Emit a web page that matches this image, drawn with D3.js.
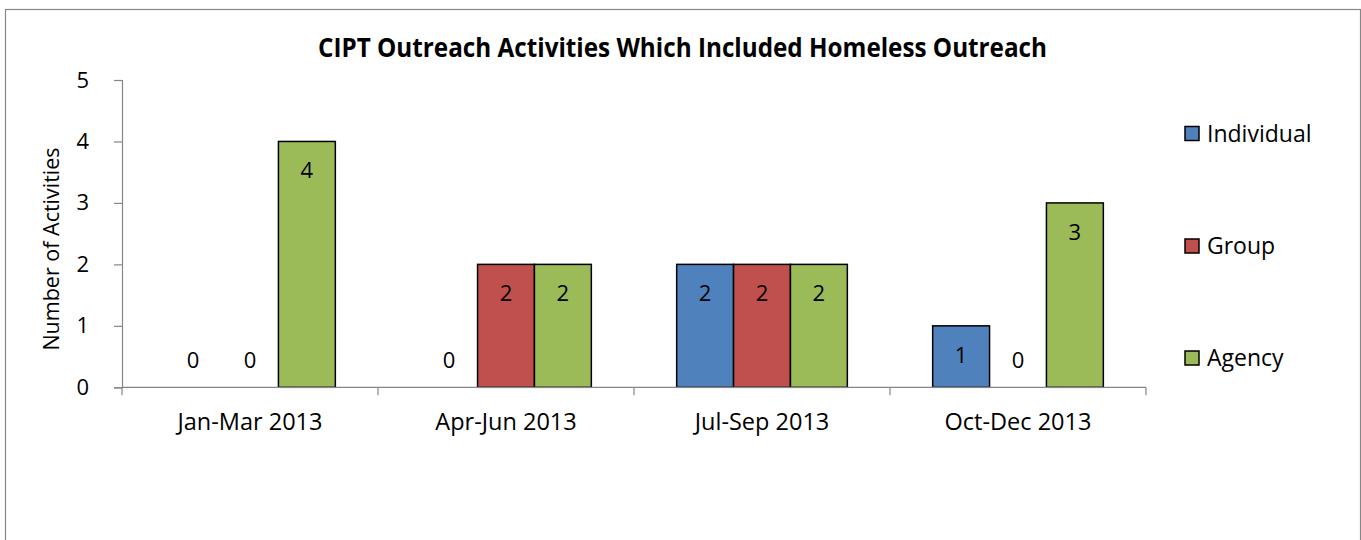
<!DOCTYPE html>
<html>
<head>
<meta charset="utf-8">
<script src="https://cdn.jsdelivr.net/npm/d3@7"></script>
<style>
  html, body { margin: 0; padding: 0; background: #fff; }
  svg { display: block; }
  text { font-family: "Open Sans", "Noto Sans", sans-serif; fill: #000; }
</style>
</head>
<body>
<svg id="chart" width="1361" height="540"></svg>
<script>
const title = "CIPT Outreach Activities Which Included Homeless Outreach";
const yTitle = "Number of Activities";
const categories = ["Jan-Mar 2013", "Apr-Jun 2013", "Jul-Sep 2013", "Oct-Dec 2013"];
const seriesNames = ["Individual", "Group", "Agency"];
const individual = [0, 0, 2, 1];
const group = [0, 2, 2, 0];
const agency = [4, 2, 2, 3];
const yTicks = [0, 1, 2, 3, 4, 5];
const colors = ["#4F81BD", "#C0504D", "#9BBB59"];

const seriesValues = [individual, group, agency];
const svg = d3.select("#chart");

// outer border
svg.append("rect").attr("x", 5.5).attr("y", 9.5).attr("width", 1355).attr("height", 560)
  .attr("fill", "#fff").attr("stroke", "#868686").attr("stroke-width", 1.2);

const plotL = 122, plotR = 1146, plotT = 80, plotB = 387.3;
const y = d3.scaleLinear().domain([0, 5]).range([plotB, plotT]);
const x0 = d3.scaleBand().domain(categories).range([plotL, plotR]).paddingInner(0).paddingOuter(0);
const x1 = d3.scaleBand().domain(seriesNames).range([0, x0.bandwidth()]).paddingInner(0).paddingOuter(0.75);

// title
svg.append("text").attr("x", 682.5).attr("y", 57).attr("text-anchor", "middle")
  .attr("font-weight", "bold").style("font-size", "27px")
  .attr("textLength", 729).attr("lengthAdjust", "spacingAndGlyphs").text(title);

// y axis
const yAxis = d3.axisLeft(y).tickValues(yTicks).tickSize(8).tickPadding(25).tickFormat(d3.format("d"));
const gy = svg.append("g").attr("transform", `translate(${plotL},0)`).call(yAxis);
gy.attr("font-family", null).attr("font-size", null);
gy.select(".domain").attr("stroke", "#868686").attr("stroke-width", 1.2);
gy.selectAll(".tick line").attr("stroke", "#868686").attr("stroke-width", 1.2);
gy.selectAll(".tick text").style("font-size", "22px").attr("fill", "#000");

// y title
svg.append("text").attr("transform", `translate(59,249) rotate(-90)`).attr("text-anchor", "middle")
  .style("font-size", "21.5px").text(yTitle);

// bars
const groups = svg.append("g").selectAll("g").data(categories).join("g")
  .attr("transform", d => `translate(${x0(d)},0)`);
groups.selectAll("rect").data((c, ci) => seriesNames.map((s, si) => ({s, si, v: seriesValues[si][ci]})))
  .join("rect")
  .filter(d => d.v > 0)
  .attr("x", d => x1(d.s)).attr("width", x1.bandwidth())
  .attr("y", d => y(d.v)).attr("height", d => y(0) - y(d.v))
  .attr("fill", d => colors[d.si]).attr("stroke", "#000").attr("stroke-width", 1.5);

// x axis
svg.append("line").attr("x1", plotL).attr("x2", plotR).attr("y1", plotB).attr("y2", plotB)
  .attr("stroke", "#868686").attr("stroke-width", 1.2);
const bounds = categories.map(c => x0(c)).concat([x0(categories[categories.length - 1]) + x0.bandwidth()]);
svg.append("g").selectAll("line").data(bounds).join("line")
  .attr("x1", d => d).attr("x2", d => d).attr("y1", plotB).attr("y2", plotB + 8)
  .attr("stroke", "#868686").attr("stroke-width", 1.2);
svg.append("g").selectAll("text").data(categories).join("text")
  .attr("x", d => x0(d) + x0.bandwidth() / 2).attr("y", 430).attr("text-anchor", "middle")
  .style("font-size", "23.5px").text(d => d);

// data labels
groups.selectAll("text.lbl").data((c, ci) => seriesNames.map((s, si) => ({s, si, v: seriesValues[si][ci]})))
  .join("text").attr("class", "lbl")
  .attr("x", d => x1(d.s) + x1.bandwidth() / 2)
  .attr("y", d => d.v > 0 ? y(d.v) + 29 : y(0) - 27)
  .attr("dy", "0.36em").attr("text-anchor", "middle").style("font-size", "22px")
  .text(d => d.v);

// legend
const legY = [133.5, 246, 358];
const leg = svg.append("g").selectAll("g").data(seriesNames).join("g")
  .attr("transform", (d, i) => `translate(1185,${legY[i]})`);
leg.append("rect").attr("x", 0).attr("y", -7).attr("width", 14).attr("height", 14)
  .attr("fill", (d, i) => colors[i]).attr("stroke", "#000").attr("stroke-width", 1.5);
leg.append("text").attr("x", 22).attr("dy", "0.35em").style("font-size", "23px").text(d => d);
</script>
</body>
</html>
